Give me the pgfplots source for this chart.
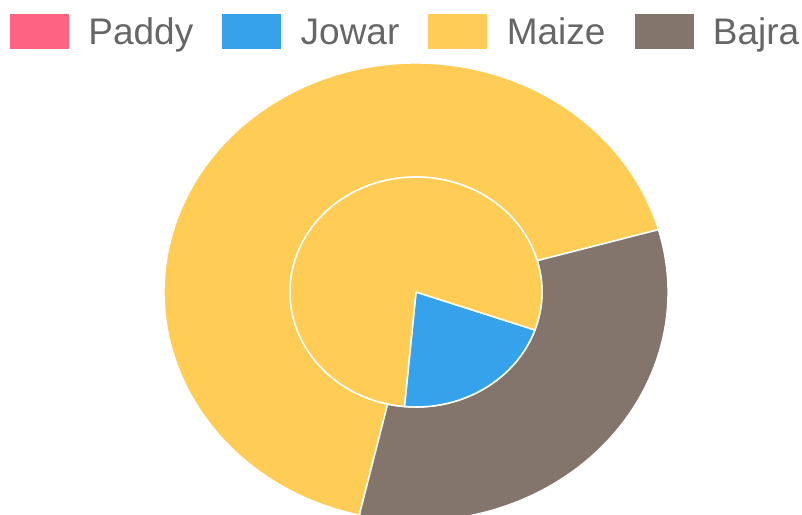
\documentclass[border=0pt]{standalone}
\usepackage{pgfplots}
\usepackage{pgfplotstable}
\pgfplotsset{compat=1.18}
\usepackage{fontspec}
\setmainfont{Liberation Sans}
\definecolor{cPaddy}{HTML}{FF6384}
\definecolor{cJowar}{HTML}{36A2EB}
\definecolor{cMaize}{HTML}{FFCD56}
\definecolor{cBajra}{HTML}{84756C}
\definecolor{legtext}{HTML}{666666}

% share of each crop (percent) in the inner pie and the outer ring
\pgfplotstableread{
crop  inner  outer
Paddy 0      0
Jowar 21.1   0
Maize 78.9   67.0
Bajra 0      33.0
}\cropdata

% centre and radii in pixel units (1 unit = 1bp)
\def\cx{416}\def\cy{223}
\def\rxi{126}\def\ryi{115}
\def\rxo{252}\def\ryo{229}

\newcommand{\pieslice}[3]{%
  \fill[#1, draw=white, line width=1.5bp, line join=round]
    (axis cs:\cx,\cy) -- (axis cs:{\cx+\rxi*cos(#2)},{\cy+\ryi*sin(#2)})
    arc[start angle=#2, end angle=#3, x radius=\rxi bp, y radius=\ryi bp] -- cycle;}
\newcommand{\ringslice}[3]{%
  \fill[#1, draw=white, line width=1.5bp, line join=round]
    (axis cs:{\cx+\rxo*cos(#2)},{\cy+\ryo*sin(#2)})
    arc[start angle=#2, end angle=#3, x radius=\rxo bp, y radius=\ryo bp]
    -- (axis cs:{\cx+\rxi*cos(#3)},{\cy+\ryi*sin(#3)})
    arc[start angle=#3, end angle=#2, x radius=\rxi bp, y radius=\ryi bp] -- cycle;}

\begin{document}
\begin{tikzpicture}
\pgfplotstablegetelem{1}{inner}\of\cropdata \let\jowarIn\pgfplotsretval
\pgfplotstablegetelem{2}{inner}\of\cropdata \let\maizeIn\pgfplotsretval
\pgfplotstablegetelem{2}{outer}\of\cropdata \let\maizeOut\pgfplotsretval
\pgfplotstablegetelem{3}{outer}\of\cropdata \let\bajraOut\pgfplotsretval
% slices are drawn clockwise from the start angles
\pgfmathsetmacro\iA{-19.3}
\pgfmathsetmacro\iB{\iA-3.6*\jowarIn}
\pgfmathsetmacro\iC{\iB-3.6*\maizeIn}
\pgfmathsetmacro\oA{-103}
\pgfmathsetmacro\oB{\oA-3.6*\maizeOut}
\pgfmathsetmacro\oC{\oB-3.6*\bajraOut}
\begin{axis}[
  scale only axis, width=802bp, height=515bp,
  xmin=0, xmax=802, ymin=0, ymax=515,
  hide axis, clip=true,
  legend columns=4,
  legend style={draw=none, fill=none, inner sep=0pt, outer sep=0pt,
    at={(axis cs:10,501)}, anchor=north west,
    font=\fontsize{37bp}{44bp}\selectfont, text=legtext,
    nodes={inner sep=0pt},
    cells={anchor=base west},
    /tikz/every odd column/.append style={column sep=20bp},
    /tikz/every even column/.append style={column sep=29bp}},
]
\addlegendimage{legend image code/.code={\fill[cPaddy] (0bp,-4bp) rectangle (58bp,30bp);}}
\addlegendimage{legend image code/.code={\fill[cJowar] (0bp,-4bp) rectangle (58bp,30bp);}}
\addlegendimage{legend image code/.code={\fill[cMaize] (0bp,-4bp) rectangle (58bp,30bp);}}
\addlegendimage{legend image code/.code={\fill[cBajra] (0bp,-4bp) rectangle (58bp,30bp);}}
\legend{Paddy,Jowar,Maize,Bajra}
% outer ring
\ringslice{cMaize}{\oA}{\oB}
\ringslice{cBajra}{\oB}{\oC}
% inner pie
\pieslice{cJowar}{\iA}{\iB}
\pieslice{cMaize}{\iB}{\iC}
\end{axis}
\pgfresetboundingbox
\useasboundingbox (current axis.south west) rectangle (current axis.north east);
\end{tikzpicture}
\end{document}
